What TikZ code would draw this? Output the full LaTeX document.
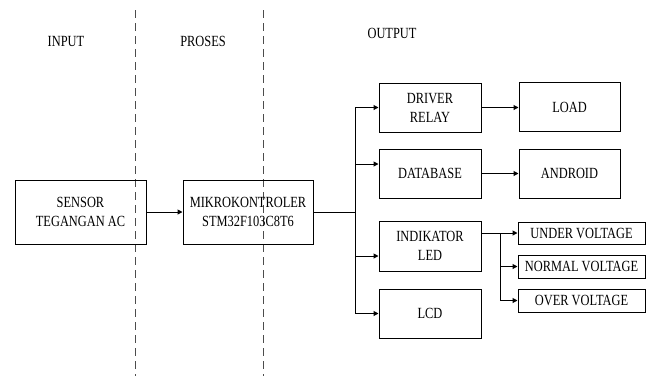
\documentclass[tikz,border=0pt]{standalone}
\usepackage{fontspec}
\setmainfont{Liberation Serif}[FakeStretch=0.8]
\usetikzlibrary{arrows.meta,calc}
\begin{document}
\begin{tikzpicture}[x=1pt,y=-1pt,
  txt/.style={font=\fontsize{15.5}{19}\selectfont, align=center, inner sep=0pt},
  box/.style={txt, draw, line width=1pt, rectangle},
  wire/.style={line width=1pt},
  arr/.style={wire, -{Triangle[length=5pt,width=5pt]}},
  sep/.style={line width=1pt, black!70, dash pattern=on 8pt off 5pt}]
\useasboundingbox (0,0) rectangle (651,376);
\draw[sep] (135,10) -- (135,376);
\draw[sep] (263,10) -- (263,376);
\node[txt] (lin) at (66,41) {INPUT};
\node[txt] (lpr) at (203,41) {PROSES};
\node[txt] (lout) at (392,33) {OUTPUT};
\node[box, minimum width=131pt, minimum height=64pt] (sensor) at (80.5,212) {SENSOR\\TEGANGAN AC};
\node[box, minimum width=130pt, minimum height=64pt] (mikro) at (248,212) {MIKROKONTROLER\\STM32F103C8T6};
\node[box, minimum width=102pt, minimum height=49pt] (driver) at (430,107.5) {DRIVER\\RELAY};
\node[box, minimum width=101pt, minimum height=49pt] (load) at (569.5,107) {LOAD};
\node[box, minimum width=102pt, minimum height=49pt] (db) at (430,173.5) {DATABASE};
\node[box, minimum width=101pt, minimum height=49pt] (android) at (569.5,173.5) {ANDROID};
\node[box, minimum width=102pt, minimum height=50pt] (led) at (430,246) {INDIKATOR\\LED};
\node[box, minimum width=102pt, minimum height=49pt] (lcd) at (430,313.5) {LCD};
\node[box, minimum width=127pt, minimum height=22pt] (under) at (581.5,233) {UNDER VOLTAGE};
\node[box, minimum width=127pt, minimum height=23pt] (normal) at (581.5,266.5) {NORMAL VOLTAGE};
\node[box, minimum width=127pt, minimum height=23pt] (over) at (581.5,300.5) {OVER VOLTAGE};
\coordinate (bus) at (355,212);
\coordinate (split) at (500,233);
\coordinate (dbin) at ([yshift=9.5pt]db.west);
\coordinate (ledin) at ([yshift=-10pt]led.west);
\coordinate (ledout) at ([yshift=13pt]led.east);
\draw[arr] (sensor.east) -- (mikro.west);
\draw[wire] (mikro.east) -- (bus);
\draw[wire] (bus |- driver.west) -- (bus |- lcd.west);
\draw[arr] (bus |- driver.west) -- (driver.west);
\draw[arr] (bus |- dbin) -- (dbin);
\draw[arr] (bus |- ledin) -- (ledin);
\draw[arr] (bus |- lcd.west) -- (lcd.west);
\draw[arr] (driver.east) -- (driver.east -| load.west);
\draw[arr] (db.east) -- (db.east -| android.west);
\draw[wire] (ledout) -- (split);
\draw[wire] (split) -- (split |- over.west);
\draw[arr] (split) -- (under.west);
\draw[arr] (split |- normal.west) -- (normal.west);
\draw[arr] (split |- over.west) -- (over.west);
\end{tikzpicture}
\end{document}
